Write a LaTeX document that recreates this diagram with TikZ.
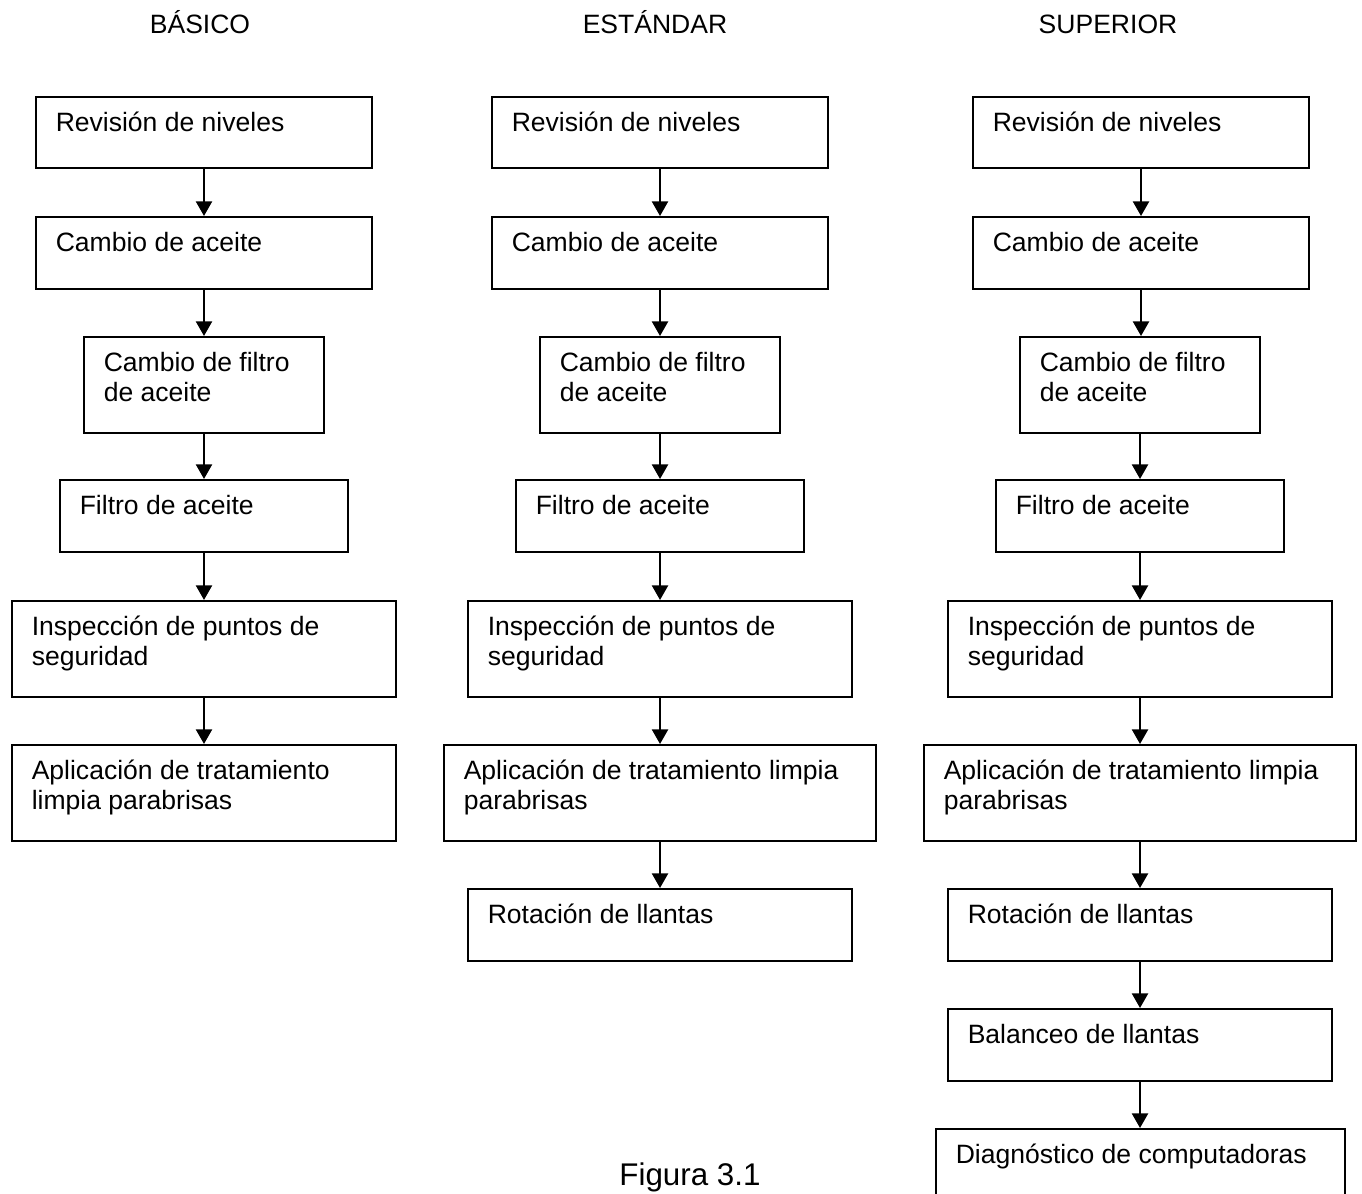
\documentclass[tikz,border=0pt]{standalone}
\usepackage{fontspec}
\setmainfont{Liberation Sans}
\usetikzlibrary{calc,arrows.meta}
\newcommand{\mkbox}[6]{%
  \node[bx, minimum width={(#4-#2)*0.75pt}, minimum height={(#5-#3)*0.75pt}, anchor=north west] (#1) at (#2,#3) {};
  \node[txt] (#1t) at ($(#1.north west)+(20.5,35)$) {\parbox[t]{12cm}{\raggedright #6}};
}
\tikzset{
  bx/.style={draw=black, line width=1.5pt, inner sep=0pt, rectangle},
  txt/.style={anchor=base west, inner sep=0pt, font=\fontsize{19.9pt}{22.9pt}\selectfont},
  hdr/.style={anchor=base, inner sep=0pt, font=\fontsize{19.9pt}{22.9pt}\selectfont},
  arr/.style={line width=1.8pt, -{Triangle[width=12pt,length=11pt]}},
}
\begin{document}
\begin{tikzpicture}[x=0.75pt,y=-0.75pt]
\useasboundingbox (0,0) rectangle (1362,1193);
\clip (0,0) rectangle (1362,1193);
\node[hdr] (h1) at (200,33) {BÁSICO};
\node[hdr] (h2) at (655,33) {ESTÁNDAR};
\node[hdr] (h3) at (1108,33) {SUPERIOR};
% column 1
\mkbox{a1}{35}{96}{371}{167}{Revisión de niveles}
\mkbox{a2}{35}{216}{371}{288}{Cambio de aceite}
\mkbox{a3}{83}{336}{323}{432}{Cambio de filtro\\de aceite}
\mkbox{a4}{59}{479}{347}{551}{Filtro de aceite}
\mkbox{a5}{11}{600}{395}{696}{Inspección de puntos de\\seguridad}
\mkbox{a6}{11}{744}{395}{840}{Aplicación de tratamiento\\limpia parabrisas}
% column 2
\mkbox{b1}{491}{96}{827}{167}{Revisión de niveles}
\mkbox{b2}{491}{216}{827}{288}{Cambio de aceite}
\mkbox{b3}{539}{336}{779}{432}{Cambio de filtro\\de aceite}
\mkbox{b4}{515}{479}{803}{551}{Filtro de aceite}
\mkbox{b5}{467}{600}{851}{696}{Inspección de puntos de\\seguridad}
\mkbox{b6}{443}{744}{875}{840}{Aplicación de tratamiento limpia\\parabrisas}
\mkbox{b7}{467}{888}{851}{960}{Rotación de llantas}
% column 3
\mkbox{c1}{972}{96}{1308}{167}{Revisión de niveles}
\mkbox{c2}{972}{216}{1308}{288}{Cambio de aceite}
\mkbox{c3}{1019}{336}{1259}{432}{Cambio de filtro\\de aceite}
\mkbox{c4}{995}{479}{1283}{551}{Filtro de aceite}
\mkbox{c5}{947}{600}{1331}{696}{Inspección de puntos de\\seguridad}
\mkbox{c6}{923}{744}{1355}{840}{Aplicación de tratamiento limpia\\parabrisas}
\mkbox{c7}{947}{888}{1331}{960}{Rotación de llantas}
\mkbox{c8}{947}{1008}{1331}{1080}{Balanceo de llantas}
\mkbox{c9}{935}{1128}{1344}{1210}{Diagnóstico de computadoras}
% arrows (straight down from the upper box)
\foreach \p/\q in {a1/a2,a2/a3,a3/a4,a4/a5,a5/a6,
                   b1/b2,b2/b3,b3/b4,b4/b5,b5/b6,b6/b7,
                   c1/c2,c2/c3,c3/c4,c4/c5,c5/c6,c6/c7,c7/c8,c8/c9}
  \draw[arr] (\p.south) -- (\p.south |- \q.north);
\node[anchor=base, inner sep=0pt, font=\fontsize{23.5pt}{27pt}\selectfont] (fig) at (690,1185) {Figura 3.1};
\end{tikzpicture}
\end{document}
